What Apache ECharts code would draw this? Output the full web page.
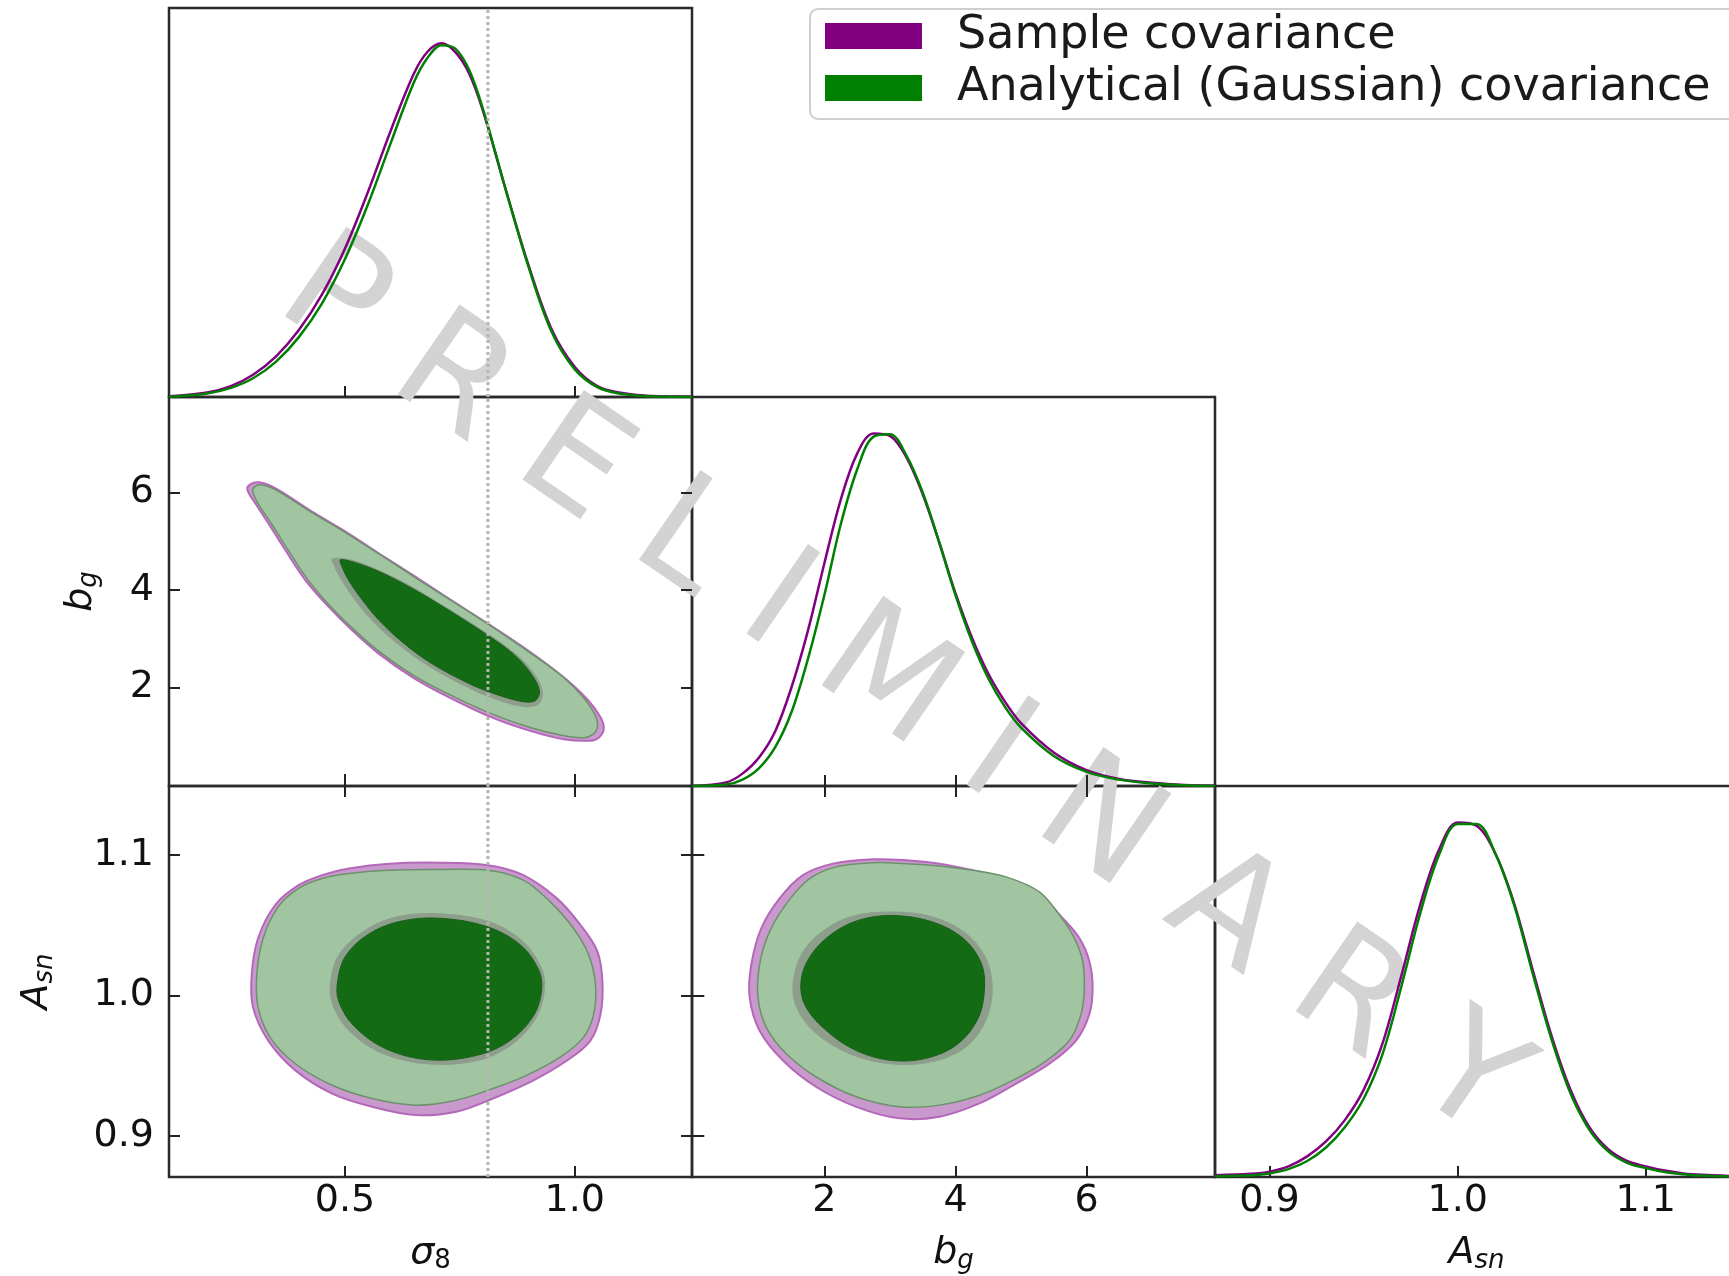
<!DOCTYPE html>
<html><head><meta charset="utf-8">
<script src="https://cdn.jsdelivr.net/npm/echarts@6/dist/echarts.min.js"></script>
<style>html,body{margin:0;padding:0;background:#fff;}#c{width:1729px;height:1276px;}</style>
</head><body><div id="c"></div>
<script>
// ---------- axis ranges & ticks ----------
const s8Range = [0.117, 1.255];
const bgRange = [-0.02, 7.96];
const asnRange = [0.871, 1.149];
const pdfRange = [0, 1.1];
const s8Ticks = [0.5, 1.0];
const bgTicks = [2, 4, 6];
const asnTicks = [0.9, 1.0, 1.1];
const s8Fiducial = 0.811;

// ---------- 1D marginals ----------
const s8Vals   = [0.117,0.20,0.25,0.30,0.35,0.40,0.45,0.50,0.55,0.60,0.65,0.68,0.71,0.74,0.77,0.80,0.85,0.90,0.95,1.00,1.05,1.10,1.15,1.20,1.255];
const s8Sample = [0.002,0.013,0.03,0.063,0.115,0.19,0.29,0.42,0.58,0.755,0.915,0.977,1.0,0.975,0.915,0.81,0.585,0.37,0.19,0.085,0.03,0.012,0.004,0.002,0.001];
const s8Gauss  = [0.001,0.01,0.025,0.053,0.10,0.17,0.265,0.39,0.545,0.72,0.89,0.96,0.995,0.985,0.925,0.815,0.585,0.365,0.183,0.078,0.027,0.009,0.003,0.001,0.0];

const bgVals   = [-0.02,0.5,0.75,1.0,1.25,1.5,1.75,2.0,2.25,2.5,2.75,3.0,3.25,3.5,3.75,4.0,4.25,4.5,4.75,5.0,5.5,6.0,6.5,7.0,7.5,7.96];
const bgSample = [0.0,0.01,0.035,0.08,0.155,0.28,0.44,0.63,0.81,0.94,0.997,0.99,0.93,0.825,0.69,0.545,0.42,0.318,0.24,0.178,0.095,0.045,0.02,0.009,0.003,0.001];
const bgGauss  = [0.0,0.004,0.018,0.05,0.11,0.21,0.36,0.54,0.74,0.895,0.988,0.995,0.935,0.83,0.69,0.54,0.41,0.305,0.225,0.165,0.085,0.04,0.018,0.007,0.002,0.0];

const asnVals   = [0.871,0.89,0.90,0.91,0.92,0.93,0.94,0.95,0.96,0.97,0.98,0.99,1.0,1.01,1.02,1.03,1.04,1.05,1.06,1.07,1.08,1.09,1.10,1.11,1.12,1.13,1.149];
const asnSample = [0.005,0.009,0.015,0.03,0.058,0.1,0.16,0.245,0.375,0.565,0.765,0.92,0.997,0.988,0.91,0.77,0.58,0.395,0.245,0.14,0.078,0.045,0.03,0.018,0.01,0.006,0.002];
const asnGauss  = [0.002,0.005,0.01,0.022,0.045,0.083,0.14,0.22,0.345,0.535,0.74,0.905,0.993,0.993,0.91,0.765,0.57,0.385,0.235,0.133,0.072,0.04,0.025,0.014,0.008,0.004,0.001];

// ---------- 2D contours (sigma8, b_g) ----------
const s8bgSample95 = [[0.289,6.13],[0.311,6.21],[0.348,6.09],[0.428,5.61],[0.501,5.20],[0.574,4.75],[0.647,4.31],[0.720,3.86],[0.811,3.31],[0.903,2.73],[0.976,2.21],[1.027,1.76],[1.056,1.39],[1.063,1.15],[1.052,0.97],[1.034,0.91],[0.976,0.94],[0.903,1.11],[0.811,1.42],[0.720,1.83],[0.647,2.21],[0.574,2.69],[0.516,3.17],[0.465,3.65],[0.414,4.20],[0.370,4.82],[0.333,5.37],[0.304,5.79],[0.289,6.02]];
const s8bgGauss95  = [[0.300,6.09],[0.315,6.16],[0.348,6.06],[0.428,5.59],[0.501,5.18],[0.574,4.74],[0.647,4.29],[0.720,3.85],[0.811,3.30],[0.903,2.71],[0.976,2.20],[1.019,1.79],[1.045,1.42],[1.049,1.18],[1.038,1.03],[1.019,0.97],[0.976,1.01],[0.903,1.18],[0.811,1.49],[0.720,1.89],[0.647,2.26],[0.574,2.74],[0.516,3.22],[0.465,3.70],[0.417,4.24],[0.377,4.81],[0.340,5.36],[0.311,5.77],[0.300,5.99]];
const s8bgSample68 = [[0.472,4.65],[0.516,4.62],[0.574,4.41],[0.647,4.07],[0.720,3.65],[0.811,3.11],[0.870,2.71],[0.909,2.33],[0.930,1.94],[0.921,1.65],[0.881,1.61],[0.811,1.81],[0.757,2.04],[0.684,2.42],[0.622,2.83],[0.567,3.29],[0.527,3.72],[0.494,4.17],[0.476,4.49]];
const s8bgGauss68  = [[0.490,4.62],[0.516,4.58],[0.574,4.38],[0.647,4.03],[0.720,3.62],[0.811,3.07],[0.866,2.69],[0.903,2.31],[0.923,1.94],[0.914,1.73],[0.881,1.72],[0.811,1.92],[0.757,2.14],[0.684,2.52],[0.625,2.93],[0.574,3.38],[0.538,3.79],[0.508,4.20],[0.492,4.51]];

// ---------- 2D contours (sigma8, A_sn) ----------
const s8AsnSample95 = [[0.508,1.0903],[0.596,1.0938],[0.705,1.0945],[0.811,1.0926],[0.888,1.0856],[0.961,1.0691],[1.012,1.0503],[1.049,1.0315],[1.060,1.0103],[1.056,0.9868],[1.034,0.968],[0.983,0.9538],[0.910,0.9397],[0.822,0.9268],[0.742,0.9174],[0.654,0.915],[0.559,0.9209],[0.472,0.9303],[0.392,0.9468],[0.333,0.968],[0.300,0.9915],[0.297,1.015],[0.311,1.0409],[0.348,1.0644],[0.399,1.0785],[0.450,1.0856]];
const s8AsnGauss95  = [[0.508,1.0868],[0.596,1.0891],[0.705,1.0896],[0.811,1.0891],[0.888,1.0821],[0.946,1.0668],[0.997,1.0479],[1.030,1.0291],[1.045,1.008],[1.041,0.9868],[1.019,0.9703],[0.968,0.9562],[0.895,0.9433],[0.822,0.9339],[0.742,0.9256],[0.654,0.9221],[0.559,0.9268],[0.472,0.9362],[0.392,0.9515],[0.337,0.9703],[0.311,0.9915],[0.308,1.015],[0.322,1.0409],[0.355,1.0632],[0.399,1.0762],[0.450,1.0832]];
const s8AsnSample68 = [[0.705,1.0585],[0.815,1.0526],[0.888,1.0385],[0.928,1.0197],[0.935,1.0044],[0.917,0.9844],[0.866,0.9656],[0.793,0.9538],[0.684,0.951],[0.581,0.9586],[0.508,0.975],[0.472,0.9938],[0.468,1.0103],[0.486,1.0291],[0.538,1.0456],[0.611,1.0562]];
const s8AsnGauss68  = [[0.705,1.055],[0.808,1.0491],[0.881,1.0362],[0.921,1.0185],[0.928,1.0044],[0.910,0.9856],[0.859,0.968],[0.786,0.9574],[0.684,0.9543],[0.589,0.9621],[0.519,0.9785],[0.486,0.9962],[0.484,1.0103],[0.501,1.0279],[0.549,1.0432],[0.618,1.0526]];

// ---------- 2D contours (b_g, A_sn) ----------
const bgAsnSample95 = [[2.130,1.0938],[2.740,1.0969],[3.248,1.0962],[3.756,1.0938],[4.264,1.0891],[4.772,1.0832],[5.280,1.0715],[5.636,1.055],[5.890,1.0409],[6.043,1.0244],[6.093,1.0056],[6.043,0.9868],[5.840,0.968],[5.433,0.9515],[4.925,0.9374],[4.366,0.9233],[3.756,0.9139],[3.146,0.9127],[2.486,0.9209],[1.876,0.935],[1.368,0.9538],[1.012,0.975],[0.860,0.9985],[0.885,1.0221],[1.038,1.0479],[1.317,1.0691],[1.673,1.0856]];
const bgAsnGauss95  = [[2.181,1.0915],[2.740,1.0945],[3.248,1.0938],[3.756,1.0922],[4.264,1.0891],[4.772,1.0844],[5.280,1.0738],[5.585,1.0574],[5.814,1.0409],[5.941,1.0244],[5.966,1.0056],[5.916,0.9868],[5.738,0.968],[5.357,0.9527],[4.874,0.9397],[4.366,0.9291],[3.756,0.9221],[3.146,0.9209],[2.486,0.928],[1.876,0.9421],[1.419,0.9586],[1.114,0.9774],[0.987,0.9985],[1.012,1.0221],[1.165,1.0456],[1.444,1.0668],[1.774,1.0832]];
const bgAsnSample68 = [[3.045,1.0597],[3.654,1.0562],[4.163,1.0444],[4.468,1.0268],[4.569,1.0056],[4.468,0.9821],[4.163,0.9633],[3.654,0.9527],[3.045,0.951],[2.435,0.9574],[1.876,0.9727],[1.571,0.9915],[1.520,1.0103],[1.673,1.0315],[2.029,1.0479],[2.486,1.0574]];
const bgAsnGauss68  = [[3.045,1.0569],[3.629,1.0526],[4.112,1.0409],[4.391,1.0232],[4.442,1.0044],[4.340,0.9833],[4.036,0.9656],[3.578,0.9557],[3.045,0.9538],[2.486,0.9609],[2.003,0.9762],[1.698,0.9938],[1.647,1.0115],[1.800,1.0291],[2.130,1.0444],[2.537,1.0538]];

// ---------- text ----------
const nameSample = 'Sample covariance';
const nameGauss = 'Analytical (Gaussian) covariance';
const watermark = 'P R E L I M I N A R Y';

// ---------- styling ----------
const PURPLE = '#800080', GREEN = '#008000';
const FONT = 'DejaVu Sans';
const TICK = {show:true, inside:true, length:11, lineStyle:{color:'#222', width:2}};
const LABEL = {show:true, fontSize:38, color:'#111', fontFamily:FONT};
const rich = {
  i:{fontSize:38, fontStyle:'italic', fontFamily:FONT, color:'#111', lineHeight:44, verticalAlign:'middle'},
  s:{fontSize:26, fontStyle:'italic', fontFamily:FONT, color:'#111', lineHeight:28, height:28, verticalAlign:'bottom'},
  n:{fontSize:26, fontFamily:FONT, color:'#111', lineHeight:28, height:28, verticalAlign:'bottom'}
};

const cols = [169, 692, 1215];
const rows = [8, 397, 786];
const W = 523, H = [389, 389, 391];
function grid(c, r){ return {left:cols[c], top:rows[r], width:W, height:H[r], show:true, borderColor:'#2a2a2a', borderWidth:2.5, backgroundColor:'rgba(0,0,0,0)', containLabel:false, outerBoundsMode:'none'}; }
const grids = [grid(0,0), grid(0,1), grid(1,1), grid(0,2), grid(1,2), grid(2,2)];

function ax(gi, range, pos, opts){
  return Object.assign({type:'value', gridIndex:gi, min:range[0], max:range[1], position:pos,
    splitLine:{show:false}, axisLine:{show:false}, axisTick:{show:false}, axisLabel:{show:false}}, opts||{});
}
function ticks(vals){ return Object.assign({}, TICK, {customValues:vals}); }
function labels(vals, fmt, margin){ return Object.assign({}, LABEL, {customValues:vals, formatter:fmt, margin:margin}); }
const f1 = v => v.toFixed(1), f0 = v => String(Math.round(v));

const xAxis = [
  ax(0, s8Range, 'bottom', {axisTick:ticks(s8Ticks)}),                                   // 0
  ax(1, s8Range, 'bottom', {axisTick:ticks(s8Ticks)}),                                   // 1
  ax(1, s8Range, 'top',    {axisTick:ticks(s8Ticks)}),                                   // 2
  ax(2, bgRange, 'bottom', {axisTick:ticks(bgTicks)}),                                   // 3
  ax(3, s8Range, 'bottom', {axisTick:ticks(s8Ticks), axisLabel:labels(s8Ticks, f1, 5),
     name:'{i|σ}{n|8}', nameLocation:'middle', nameGap:54, nameTextStyle:{rich:rich}}),   // 4
  ax(3, s8Range, 'top',    {axisTick:ticks(s8Ticks)}),                                   // 5
  ax(4, bgRange, 'bottom', {axisTick:ticks(bgTicks), axisLabel:labels(bgTicks, f0, 5),
     name:'{i|b}{s|g}', nameLocation:'middle', nameGap:54, nameTextStyle:{rich:rich}}),   // 6
  ax(4, bgRange, 'top',    {axisTick:ticks(bgTicks)}),                                   // 7
  ax(5, asnRange, 'bottom', {axisTick:ticks(asnTicks), axisLabel:labels(asnTicks, f1, 5),
     name:'{i|A}{s|sn}', nameLocation:'middle', nameGap:54, nameTextStyle:{rich:rich}})   // 8
];
const yAxis = [
  ax(0, pdfRange, 'left'),                                                                // 0
  ax(1, bgRange, 'left', {axisTick:ticks(bgTicks), axisLabel:labels(bgTicks, f0, 15),
     name:'{i|b}{s|g}', nameLocation:'middle', nameGap:66, nameTextStyle:{rich:rich}}),   // 1
  ax(1, bgRange, 'right', {axisTick:ticks(bgTicks)}),                                    // 2
  ax(2, pdfRange, 'left'),                                                                // 3
  ax(3, asnRange, 'left', {axisTick:ticks(asnTicks), axisLabel:labels(asnTicks, f1, 15),
     name:'{i|A}{s|sn}', nameLocation:'middle', nameGap:110, nameTextStyle:{rich:rich}}), // 4
  ax(3, asnRange, 'right', {axisTick:ticks(asnTicks)}),                                  // 5
  ax(4, asnRange, 'left',  {axisTick:ticks(asnTicks)}),                                  // 6
  ax(4, asnRange, 'right', {axisTick:ticks(asnTicks)}),                                  // 7
  ax(5, pdfRange, 'left')                                                                 // 8
];

function zip(xs, ys){ return xs.map((x, i) => [x, ys[i]]); }
function line1d(name, color, xs, ys, ai){
  return {type:'line', name:name, xAxisIndex:ai, yAxisIndex:ai, data:zip(xs, ys), smooth:0.35,
    showSymbol:false, silent:true, z:3, itemStyle:{color:color}, lineStyle:{color:color, width:2.5}};
}
function contour(name, pts, xi, yi, fill, stroke, lw, z){
  return {type:'custom', name:name, xAxisIndex:xi, yAxisIndex:yi, z:z, silent:true, data:pts,
    encode:{x:0, y:1}, itemStyle:{color:fill},
    renderItem:function(params, api){
      if (params.dataIndex !== 0) return null;
      const p = pts.map(d => api.coord(d));
      return {type:'polygon', shape:{points:p, smooth:0.35},
        style:{fill:fill, stroke:stroke || null, lineWidth:lw || 0}};
    }};
}
function panel(xi, yi, s95, g95, s68, g68){
  return [
    contour(nameSample, s95, xi, yi, '#c998cd', '#b468b8', 2, 4),
    contour(nameGauss,  g95, xi, yi, '#a1c5a1', '#6b926b', 1.5, 5),
    contour(nameSample, s68, xi, yi, '#8d9e8d', null, 0, 6),
    contour(nameGauss,  g68, xi, yi, '#136c13', '#1d5e1d', 1, 7)
  ];
}
function fidLine(ai, yr){
  return {type:'line', xAxisIndex:ai, yAxisIndex:ai, data:[[s8Fiducial, yr[0]], [s8Fiducial, yr[1]]],
    showSymbol:false, silent:true, z:10, lineStyle:{color:'#b4b4b4', width:3, type:[3,3]}};
}

const series = [
  line1d(nameSample, PURPLE, s8Vals, s8Sample, 0),
  line1d(nameGauss,  GREEN,  s8Vals, s8Gauss, 0),
  line1d(nameSample, PURPLE, bgVals, bgSample, 3),
  line1d(nameGauss,  GREEN,  bgVals, bgGauss, 3),
  line1d(nameSample, PURPLE, asnVals, asnSample, 8),
  line1d(nameGauss,  GREEN,  asnVals, asnGauss, 8)
].concat(
  panel(1, 1, s8bgSample95, s8bgGauss95, s8bgSample68, s8bgGauss68),
  panel(4, 4, s8AsnSample95, s8AsnGauss95, s8AsnSample68, s8AsnGauss68),
  panel(6, 6, bgAsnSample95, bgAsnGauss95, bgAsnSample68, bgAsnGauss68),
  [fidLine(0, pdfRange), fidLine(1, bgRange), fidLine(4, asnRange)]
);

const chart = echarts.init(document.getElementById('c'), null, {renderer:'canvas'});
chart.setOption({
  animation:false,
  backgroundColor:'#ffffff',
  grid:grids,
  xAxis:xAxis,
  yAxis:yAxis,
  legend:{
    orient:'vertical', left:810, top:9, icon:'rect', itemWidth:97, itemHeight:26, itemGap:0,
    padding:[1, 60, 5, 15], backgroundColor:'#ffffff', borderColor:'#cfcfcf', borderWidth:2, borderRadius:8,
    selectedMode:false,
    textStyle:{fontSize:46, lineHeight:38, fontFamily:FONT, color:'#1a1a1a', padding:[14,0,0,30]},
    data:[{name:nameSample, itemStyle:{color:PURPLE}}, {name:nameGauss, itemStyle:{color:GREEN}}]
  },
  graphic:[{
    type:'text', x:900, y:692, rotation:-34.5*Math.PI/180, z:0, silent:true,
    style:{text:watermark, fontSize:149, fontFamily:FONT, fill:'#d3d3d3', align:'center', verticalAlign:'middle',
      textAlign:'center', textVerticalAlign:'middle'}
  }],
  series:series
});
</script></body></html>
